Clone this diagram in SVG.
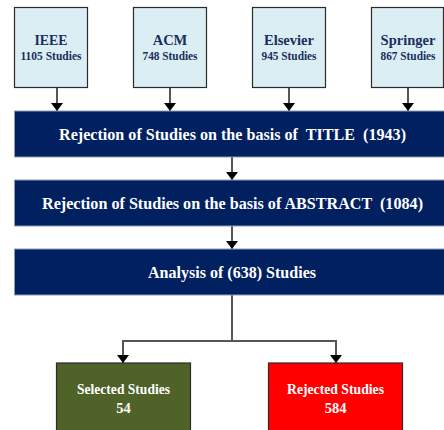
<svg xmlns="http://www.w3.org/2000/svg" width="444" height="430" viewBox="0 0 444 430">
<style>
text{font-family:"Liberation Serif","Times New Roman",serif;font-weight:bold;text-anchor:middle;white-space:pre}
.src rect{fill:#dbeef3;stroke:#2b2b2b;stroke-width:1.2}
.src text{fill:#1a2f5e}
.t1{font-size:14.5px}
.t2{font-size:12px}
.bar rect{fill:#002060;stroke:#8c9cb8;stroke-width:1}
.bar text{fill:#ffffff;font-size:17px}
.res text{fill:#ffffff;font-size:14.5px}
.res rect{stroke:#2b2b2b;stroke-width:1.2}
.con{fill:none;stroke:#555555;stroke-width:2}
</style>
<defs>
<marker id="ah" viewBox="0 0 8 12" refX="8" refY="6" markerWidth="8" markerHeight="12" markerUnits="userSpaceOnUse" orient="auto">
<path d="M0,0 L8,6 L0,12 Z" fill="#000"/>
</marker>
</defs>
<rect width="444" height="430" fill="#ffffff"/>
<g id="connectors">
<line class="con" x1="57" y1="88" x2="57" y2="111" marker-end="url(#ah)"/>
<line class="con" x1="170" y1="88" x2="170" y2="111" marker-end="url(#ah)"/>
<line class="con" x1="289" y1="88" x2="289" y2="111" marker-end="url(#ah)"/>
<line class="con" x1="408" y1="88" x2="408" y2="111" marker-end="url(#ah)"/>
<line class="con" x1="232" y1="157" x2="232" y2="180" marker-end="url(#ah)"/>
<line class="con" x1="232" y1="226" x2="232" y2="249" marker-end="url(#ah)"/>
<polyline class="con" points="232,295 232,341 123,341 123,363" marker-end="url(#ah)"/>
<polyline class="con" points="232,341 336,341 336,363" marker-end="url(#ah)"/>
</g>
<g id="ieee" class="src">
<rect x="14.5" y="7.5" width="73" height="80"/>
<text class="t1" x="51" y="45" textLength="33" lengthAdjust="spacingAndGlyphs">IEEE</text>
<text class="t2" x="51" y="60" textLength="61" lengthAdjust="spacingAndGlyphs">1105 Studies</text>
</g>
<g id="acm" class="src">
<rect x="133.5" y="7.5" width="73" height="80"/>
<text class="t1" x="170" y="45">ACM</text>
<text class="t2" x="170" y="60" textLength="55" lengthAdjust="spacingAndGlyphs">748 Studies</text>
</g>
<g id="elsevier" class="src">
<rect x="252.5" y="7.5" width="73" height="80"/>
<text class="t1" x="289" y="45">Elsevier</text>
<text class="t2" x="289" y="60" textLength="55" lengthAdjust="spacingAndGlyphs">945 Studies</text>
</g>
<g id="springer" class="src">
<rect x="371.5" y="7.5" width="72" height="80"/>
<text class="t1" x="408" y="45">Springer</text>
<text class="t2" x="408" y="60" textLength="55" lengthAdjust="spacingAndGlyphs">867 Studies</text>
</g>
<g id="title" class="bar">
<rect x="14.5" y="111" width="431" height="46"/>
<text x="232.5" y="139.5" textLength="347" lengthAdjust="spacingAndGlyphs">Rejection of Studies on the basis of  TITLE  (1943)</text>
</g>
<g id="abstract" class="bar">
<rect x="14.5" y="180" width="431" height="46"/>
<text x="232.5" y="208.5" textLength="381" lengthAdjust="spacingAndGlyphs">Rejection of Studies on the basis of ABSTRACT  (1084)</text>
</g>
<g id="analysis" class="bar">
<rect x="14.5" y="249" width="431" height="46"/>
<text x="232" y="277.5" textLength="168" lengthAdjust="spacingAndGlyphs">Analysis of (638) Studies</text>
</g>
<g id="selected" class="res">
<rect x="56.5" y="363" width="134" height="72" fill="#4f6228"/>
<text x="123.5" y="394" textLength="93" lengthAdjust="spacingAndGlyphs">Selected Studies</text>
<text x="123.5" y="413">54</text>
</g>
<g id="rejected" class="res">
<rect x="268.5" y="363" width="134" height="72" fill="#ff0000"/>
<text x="335.5" y="394" textLength="97" lengthAdjust="spacingAndGlyphs">Rejected Studies</text>
<text x="335.5" y="413">584</text>
</g>
</svg>
